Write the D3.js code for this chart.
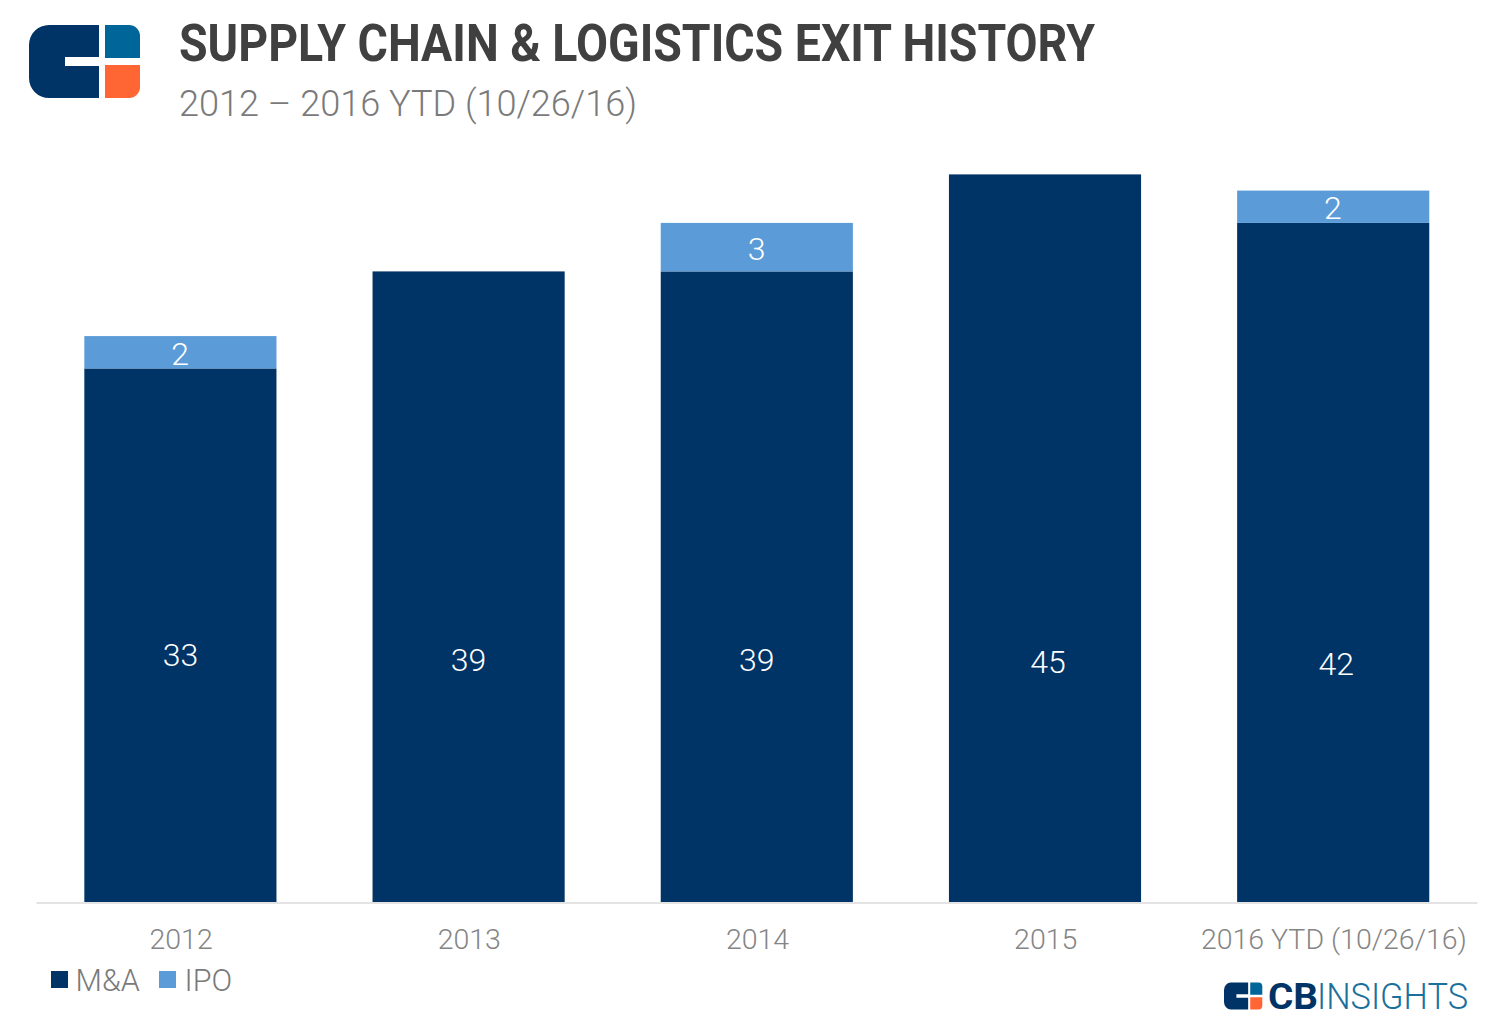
<!DOCTYPE html>
<html><head><meta charset="utf-8">
<script src="https://cdn.jsdelivr.net/npm/d3@7"></script>
<style>html,body{margin:0;background:#fff}svg{display:block}text{font-family:Roboto,sans-serif}</style>
</head><body><svg id="c" width="1494" height="1028"></svg>
<script>
const categories = ["2012","2013","2014","2015","2016 YTD (10/26/16)"];
const mna = [33,39,39,45,42];
const ipo = [2,0,3,0,2];
const seriesNames = ["M&A","IPO"];
const colors = ["#003366","#5b9bd8"];

const svg = d3.select("#c");
const x = d3.scaleBand().domain(categories).range([36.3,1477.3]).paddingInner(1/3).paddingOuter(1/6);
const y = d3.scaleLinear().domain([0,45]).range([902,174.4]);

// header
svg.append("text").attr("x",179).attr("y",61).attr("font-size",52).attr("font-weight",700).attr("fill","#404040")
  .attr("textLength",916).attr("lengthAdjust","spacingAndGlyphs").text("SUPPLY CHAIN & LOGISTICS EXIT HISTORY");
svg.append("text").attr("x",179).attr("y",116).attr("font-size",37).attr("font-weight",300).attr("fill","#7a7a7a")
  .attr("textLength",458).attr("lengthAdjust","spacingAndGlyphs").text("2012 – 2016 YTD (10/26/16)");

function logo(g){
  g.append("path").attr("fill","#003366").attr("d","M20 0H70V32H36V41H70V73H20A20 20 0 0 1 0 53V20A20 20 0 0 1 20 0Z");
  g.append("path").attr("fill","#006699").attr("d","M76 0H100A11 11 0 0 1 111 11V33H76Z");
  g.append("path").attr("fill","#ff6633").attr("d","M76 40H111V62A11 11 0 0 1 100 73H76Z");
}
logo(svg.append("g").attr("transform","translate(29,25)"));
logo(svg.append("g").attr("transform","translate(1224,982.5) scale(0.345,0.37)"));
svg.append("text").attr("x",1268).attr("y",1008.5).attr("font-size",36).attr("font-weight",700).attr("fill","#003366")
  .attr("textLength",50).attr("lengthAdjust","spacingAndGlyphs").text("CB");
svg.append("text").attr("x",1317).attr("y",1008.5).attr("font-size",36).attr("font-weight",300).attr("fill","#1b6f9c")
  .attr("textLength",151).attr("lengthAdjust","spacingAndGlyphs").text("INSIGHTS");

// bars
const nudgeX = [0,0,0,3,3];
const mnaLabelY = [15.28,14.98,15.0,14.88,14.75];
svg.append("g").selectAll("rect").data(categories).join("rect")
  .attr("x",d=>x(d)).attr("width",x.bandwidth())
  .attr("y",(d,i)=>y(mna[i])).attr("height",(d,i)=>y(0)-y(mna[i])).attr("fill",colors[0]);
svg.append("g").selectAll("rect").data(categories.filter((d,i)=>ipo[i]>0)).join("rect")
  .attr("x",d=>x(d)).attr("width",x.bandwidth())
  .attr("y",d=>{const i=categories.indexOf(d);return y(mna[i]+ipo[i]);})
  .attr("height",d=>{const i=categories.indexOf(d);return y(mna[i])-y(mna[i]+ipo[i]);})
  .attr("fill",colors[1]);

// value labels
const lab = svg.append("g").attr("fill","#fff").attr("font-size",32).attr("font-weight",300).attr("text-anchor","middle");
categories.forEach((c,i)=>{
  lab.append("text").attr("x",x(c)+x.bandwidth()/2+nudgeX[i]).attr("y",y(mnaLabelY[i])).attr("dy","0.355em").text(mna[i]);
  if(ipo[i]>0) lab.append("text").attr("x",x(c)+x.bandwidth()/2-0.3).attr("y",y(mna[i]+ipo[i]/2)+1).attr("dy","0.355em").text(ipo[i]);
});

// axis
const ax = svg.append("g").attr("transform","translate(0.7,902)").call(d3.axisBottom(x).tickSize(0).tickPadding(27));
ax.select(".domain").attr("stroke","#e3e3e3").attr("stroke-width",2).attr("transform","translate(-1,0.5)");
ax.selectAll("text").attr("font-size",28.5).attr("font-weight",300).attr("fill","#858585").style("font-family","Roboto,sans-serif");

// legend
const lg = svg.append("g");
[[51,75.5],[159,184.5]].forEach((p,i)=>{
  lg.append("rect").attr("x",p[0]).attr("y",971).attr("width",17).attr("height",17).attr("fill",colors[i]);
  lg.append("text").attr("x",p[1]).attr("y",991).attr("font-size",30.5).attr("font-weight",300).attr("fill","#7a7a7a").text(seriesNames[i]);
});
</script></body></html>
